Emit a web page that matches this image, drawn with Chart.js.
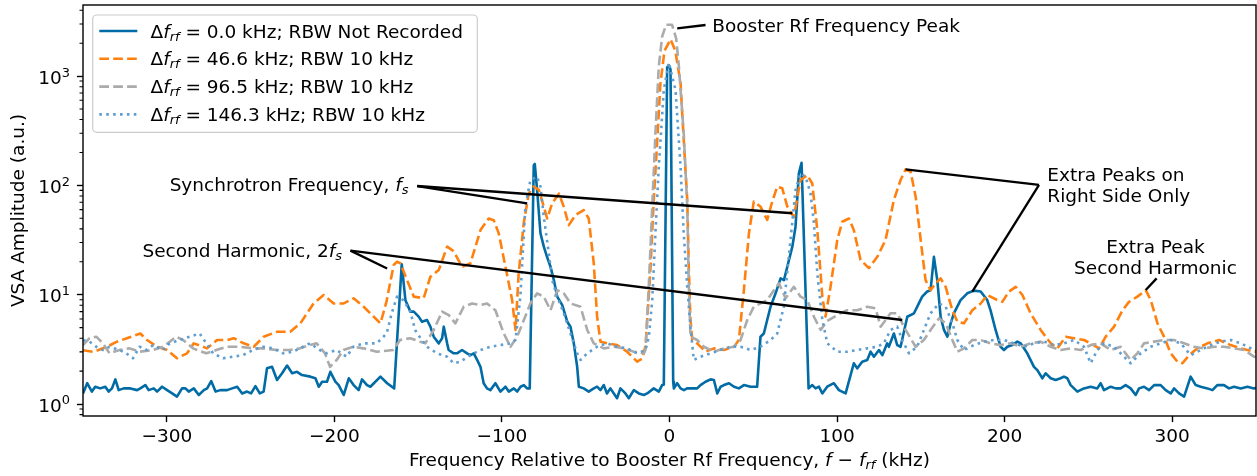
<!DOCTYPE html>
<html>
<head>
<meta charset="utf-8">
<script src="https://cdn.jsdelivr.net/npm/chart.js@4"></script>
<style>
  html, body { margin: 0; padding: 0; background: #fff; }
</style>
</head>
<body>
<canvas id="vsaChart" width="1257" height="476"></canvas>
<script>
// spectrum traces, [frequency offset (kHz), VSA amplitude (a.u.)]
const ampOffset0 = [
  [-350,1.25],[-347.5,1.55],[-344.7,1.30],[-342.7,1.44],[-339.7,1.39],[-336.7,1.44],[-334.7,1.30],[-332.7,1.39],[-330.7,1.68],[-328.7,1.34],
  [-325.7,1.39],[-321.7,1.39],[-317.7,1.34],[-315.8,1.39],[-312.8,1.49],[-310.8,1.34],[-307.8,1.39],[-305.8,1.30],[-302.8,1.44],[-299.8,1.34],
  [-296.8,1.25],[-293.9,1.17],[-290.9,1.39],[-288.9,1.39],[-286.9,1.30],[-283.9,1.39],[-280.9,1.21],[-277.9,1.34],[-275.9,1.39],[-273.5,1.62],
  [-270.9,1.30],[-268,1.34],[-264,1.34],[-261,1.39],[-258,1.44],[-255,1.25],[-252.1,1.30],[-249.7,1.25],[-247.1,1.46],[-244.5,1.25],
  [-242.2,1.30],[-240.2,2.12],[-237.2,2.19],[-234.2,1.66],[-231.2,1.91],[-228.2,2.25],[-225.2,1.91],[-222.3,1.97],[-219.3,1.84],[-214.3,1.78],
  [-211.3,1.72],[-209.3,1.44],[-207.3,1.6],[-204.4,1.6],[-202.4,1.97],[-199.4,1.6],[-197.4,1.49],[-194.4,1.21],[-191.4,1.72],[-188.5,1.49],
  [-185.5,1.34],[-183.5,1.68],[-180.5,1.49],[-178.5,1.44],[-172.5,1.78],[-168.5,1.55],[-164.3,1.39],[-159.8,19],[-157.6,8.9],[-154.6,7.0],
  [-152.6,7.0],[-149.7,6.3],[-147.7,5.66],[-144.7,5.87],[-142.7,5.1],[-140.7,4.13],[-137.7,3.59],[-135.7,4.0],[-134.7,5.1],[-132.7,3.59],
  [-131.8,3.12],[-128.8,2.91],[-126.8,2.91],[-123.8,3.12],[-120.8,2.91],[-118.8,2.8],[-116.8,2.91],[-114.8,2.53],[-112.8,2.19],[-110.9,1.55],
  [-108.9,1.39],[-106.9,1.34],[-103.9,1.55],[-100.9,1.30],[-97.9,1.44],[-95.9,1.30],[-92.9,1.39],[-90.9,1.30],[-88.9,1.44],[-86.9,1.49],
  [-85,1.39],[-83.4,1.39],[-81,153],[-80.4,157],[-79,90.6],[-77,36.5],[-75,27.5],[-73,22],[-71,18],[-69,13.6],
  [-67,9.6],[-64,8.04],[-61,5.66],[-59.1,5.1],[-57.1,3.59],[-55.1,2.19],[-54.1,1.44],[-51.2,1.39],[-48.2,1.30],[-45.2,1.39],
  [-43.2,1.44],[-41.2,1.34],[-39.2,1.49],[-37.3,1.25],[-35.3,1.39],[-31.3,1.13],[-29.3,1.39],[-26.3,1.25],[-24.3,1.13],[-21.3,1.34],
  [-18.3,1.25],[-15.3,1.21],[-13.3,1.25],[-9.4,1.39],[-6.4,1.30],[-4.4,1.49],[-3.4,1.5],[-1.4,1200],[-0.4,1260],[0.6,1150],
  [2.2,1.6],[2.6,1.39],[4.6,1.55],[6.6,1.39],[8.6,1.34],[10.5,1.39],[13.5,1.39],[16.5,1.39],[18.5,1.49],[21.5,1.6],
  [24.5,1.68],[26.5,1.66],[28.5,1.25],[30.5,1.44],[32.5,1.49],[35.5,1.55],[38.5,1.44],[41.4,1.39],[44.4,1.49],[48.4,1.44],
  [52.3,1.44],[54.3,4.13],[56.3,4.42],[58.3,5.87],[60.3,7.76],[63.3,10.3],[66.3,14.1],[68.3,13.6],[70.3,18],[73.3,27.5],
  [75.2,41.9],[77.2,129],[78.8,161],[83,1.39],[85.2,1.49],[87.2,1.39],[89.2,1.44],[91.2,1.25],[94.1,1.44],[98.1,1.55],
  [101.1,1.34],[105.1,1.25],[110,2.36],[112,2.12],[115,2.44],[118,2.53],[120,3.01],[122,2.71],[125,3.12],[127,2.8],
  [129.9,3.59],[130.9,3.34],[133.9,4.42],[135.9,3.46],[137.9,3.34],[141.9,6.29],[145.9,6.76],[148.8,8.32],[150.8,9.6],[153.8,10.7],
  [155.8,11.0],[157.8,22.2],[159.8,13.6],[161.8,6.29],[163.8,4.76],[165.8,4.13],[167.8,5.47],[169.7,6.76],[173.7,8.93],[177.7,10.3],
  [181.7,10.9],[185.7,10.7],[189.6,8.93],[191.6,7.2],[194.6,4.76],[197.6,3.34],[199.6,3.12],[201.6,3.34],[204.6,3.46],[207.6,3.72],
  [209.6,3.59],[213.5,2.91],[217.5,2.19],[219.5,2.04],[222.5,1.72],[224.5,1.91],[227.5,1.72],[230.4,1.66],[233.4,1.72],[235.4,1.78],
  [237.4,1.72],[239.4,1.49],[243.4,1.30],[247.3,1.39],[251.3,1.44],[255.3,1.39],[257.3,1.55],[259.3,1.34],[263.3,1.44],[266.3,1.39],
  [269.2,1.39],[272.2,1.49],[275.2,1.39],[278.2,1.21],[280.2,1.39],[283.2,1.44],[286.2,1.34],[289.2,1.49],[293.1,1.49],[296.1,1.34],
  [299.1,1.25],[301.1,1.39],[304.1,1.25],[307.1,1.17],[311,1.78],[314,1.49],[317,1.44],[321,1.39],[324,1.34],[326.9,1.49],
  [330.9,1.49],[333.9,1.39],[336.9,1.44],[340.9,1.39],[344.9,1.44],[348.8,1.39],[350,1.40]
];

const ampOffset46 = [
  [-350,3.1],[-343.7,3.0],[-335.7,3.34],[-329.7,3.72],[-323.8,4.0],[-315.8,4.42],[-311.8,3.85],[-305.8,3.34],[-299.8,3.12],[-293.9,2.62],
  [-287.9,2.91],[-283.9,3.59],[-276,3.23],[-270,3.85],[-264,3.85],[-260,4.0],[-254.1,3.59],[-248.1,3.34],[-242.2,4.13],[-234.2,4.58],
  [-226.3,4.58],[-220.3,5.47],[-212.4,8.32],[-206.4,9.93],[-200.4,8.32],[-194.4,8.32],[-188.5,9.27],[-182.5,7.76],[-172.5,5.47],[-169,8.5],
  [-164.6,18.7],[-162.6,20],[-160.6,19.4],[-156.6,13.6],[-152.6,9.6],[-146.7,9.3],[-142.7,14.6],[-137.7,16.8],[-132.7,27.5],[-128.8,25],
  [-123.8,18],[-118.8,19.4],[-112.8,39],[-107.9,49.8],[-104.9,48],[-101.9,36.4],[-97.9,18],[-93.9,8.93],[-91.9,4.76],[-90,15.7],
  [-87,45],[-84,84],[-81,97.6],[-78,91],[-75,64],[-73,49.8],[-70,68.6],[-66,84],[-63.1,64],[-60.1,43.3],
  [-56.1,53.6],[-51.2,59.5],[-48.2,49.8],[-45.2,19.4],[-43.2,6.3],[-41.2,3.72],[-37.3,3.59],[-31.3,3.46],[-25.3,3.01],[-19.3,2.44],
  [-16.3,2.6],[-14.3,3.4],[-12.3,10],[-11.3,18],[-9.4,73.6],[-7.3,260],[-5.4,859],[-3,1700],[0.6,2170],[3.5,1700],
  [6.6,859],[8.5,260],[10.6,73.6],[11.5,18],[12.5,6],[13.6,3.85],[16.5,3.59],[21.5,3.01],[26.5,3.23],[32.5,3.12],
  [38.5,3.34],[41.4,3.85],[44.4,11],[47.4,36.4],[50.3,71],[54.3,64],[58.3,48.3],[61.3,71],[64.3,97.6],[67.3,94],
  [70.3,64],[74.2,51.5],[78.2,112],[82.2,124],[85.2,104],[88.2,39],[91.2,9.6],[93.1,6.3],[96.1,11.8],[100.1,31.6],
  [103.1,46.5],[107.1,49.8],[110,39],[114,20.8],[119,17.5],[124,22.2],[128.9,31.6],[133.9,73.6],[137.9,112],[140.9,140],
  [143.9,133],[146.9,78.9],[149.9,31.6],[152.8,13.6],[155.8,11],[158.8,12.7],[161.8,14.1],[164.8,11.8],[168.8,7.2],[171.8,5.66],
  [175.7,5.47],[180.7,7.2],[185.7,8.32],[189.7,9.93],[195.6,8.93],[198.6,8.6],[202.6,10.7],[206.6,11.8],[210.6,9.93],[215.5,6.76],
  [221.5,4.76],[227.5,3.59],[231.5,3.23],[236.4,4.13],[241.4,4.0],[247.4,3.85],[251.3,3.59],[256.3,3.23],[260.3,4.13],[265.3,5.1],
  [270.3,7.2],[274.2,8.6],[279.2,9.6],[284.2,11],[287.2,8.93],[291.2,5.47],[295.1,4.13],[299.1,2.91],[303.1,2.44],[306.1,2.36],
  [310.1,2.8],[315.1,3.23],[321,3.59],[328,3.85],[334.9,3.46],[340.9,3.23],[348.8,3.01],[350,3.0]
];

const ampOffset96 = [
  [-350,3.46],[-346.1,4.0],[-342.1,4.13],[-338.1,3.59],[-334.2,2.91],[-328.2,3.12],[-322.2,3.23],[-316.2,3.01],[-308.2,3.12],[-302.3,3.34],
  [-294.3,4.13],[-290.3,3.85],[-284.4,3.23],[-276.4,2.91],[-270.4,3.12],[-264.4,3.34],[-256.5,3.34],[-248.5,3.23],[-242.5,3.23],[-234.5,3.12],
  [-226.6,3.12],[-220.6,3.23],[-214.6,3.46],[-210.6,3.59],[-205.6,2.91],[-202.6,2.19],[-198.6,2.53],[-194.6,3.12],[-188.7,3.34],[-182.7,3.23],
  [-174.7,3.01],[-164.8,3.12],[-160.8,3.85],[-154.8,4.0],[-148.8,3.72],[-145.7,3.59],[-140.7,4.76],[-135.7,7.0],[-131.7,6.5],[-127.8,5.47],
  [-122.8,7.76],[-117.8,8.32],[-112.8,8.04],[-108.9,8.32],[-103.9,7.2],[-98.9,4.42],[-94.9,3.34],[-90.9,4.13],[-86.9,5.87],[-83,8.32],
  [-79,10.3],[-75,9.6],[-71,7.2],[-67,11],[-63.1,10.3],[-59.1,8.32],[-53.1,7.76],[-49.1,4.76],[-45.2,3.59],[-39.2,3.23],
  [-33.2,3.34],[-27.3,3.23],[-21.3,3.01],[-15.3,2.91],[-14.3,3.12],[-12.3,12.7],[-10.3,64],[-8.4,300],[-6.4,1220],[-4.4,2300],
  [-2,2950],[1.5,2950],[4,2200],[5.6,1220],[8.5,300],[10.6,64],[11.5,12.7],[12.5,4.13],[16.5,3.85],[20.5,3.34],
  [26.5,3.01],[32.5,3.23],[38.5,3.34],[42.4,3.85],[46.4,5.87],[50.3,7.76],[54.3,8.32],[58.3,8.93],[62.3,11],[65.3,12.7],
  [69.3,9.27],[74.2,11.8],[78.2,9.6],[82.2,8.93],[86.2,6.29],[90.2,4.76],[94.1,5.75],[102,6.76],[106.1,7.2],[112,7.2],
  [118,7.76],[123,7.5],[126,5.1],[131.9,6.76],[135.9,6.76],[140.9,4.76],[146.9,3.34],[151.8,3.85],[155.8,4.76],[160.8,6.08],
  [164.8,5.47],[168.8,3.85],[171.8,3.01],[175.7,3.23],[180.7,3.85],[185.7,3.85],[191.6,3.59],[197.6,3.46],[203.6,3.59],[209.6,3.34],
  [215.5,3.59],[221.5,3.72],[227.5,3.34],[233.4,3.12],[239.4,3.23],[245.4,3.12],[251.3,3.46],[257.3,3.59],[263.3,3.12],[269.2,3.34],
  [275.2,2.53],[279.2,2.91],[283.2,3.59],[289.2,3.72],[295.1,3.85],[301.1,3.85],[307.1,3.59],[313,3.34],[319,3.23],[325,3.34],
  [330.9,3.34],[336.9,3.23],[342.9,3.12],[348.8,2.71],[350,2.7]
];

const ampOffset146 = [
  [-350,3.85],[-346.1,3.72],[-342.1,3.34],[-338.1,3.12],[-334.2,3.34],[-328.2,3.12],[-324.2,2.91],[-320.2,2.62],[-316.2,3.34],[-312.2,3.12],
  [-308.2,3.46],[-302.3,3.12],[-298.3,3.59],[-292.3,3.85],[-286.3,4.13],[-280.4,4.42],[-276.4,3.59],[-272.4,2.91],[-266.4,2.62],[-260.5,2.71],
  [-254.5,2.8],[-248.5,3.12],[-242.5,3.34],[-236.5,3.23],[-230.6,2.91],[-224.6,3.01],[-218.6,3.34],[-214.6,3.59],[-208.7,3.12],[-204.7,2.91],
  [-198.7,3.12],[-192.7,2.71],[-188.7,3.34],[-182.7,3.59],[-174.7,3.59],[-168.8,4.42],[-165.8,6.76],[-162.6,9.6],[-158.8,8.93],[-154.7,7.0],
  [-151.8,4.76],[-150.6,4.42],[-144.7,3.34],[-138.7,2.91],[-132.7,2.71],[-128.8,2.36],[-124.8,2.44],[-118.8,2.8],[-112.8,3.12],[-106.9,3.34],
  [-100.9,3.46],[-94.9,3.59],[-91.9,3.85],[-89,9.6],[-86,64],[-83,112],[-79,120],[-77,97.6],[-75,51.5],[-72,23.9],
  [-70,13.6],[-67,9.6],[-63.1,6.76],[-59.1,4.42],[-55.1,2.91],[-53.1,2.53],[-49.1,2.91],[-43.2,3.34],[-37.3,3.59],[-31.3,3.34],
  [-25.3,3.23],[-19.3,2.91],[-14.3,3.12],[-12.3,4.13],[-10.3,8.93],[-8.4,36.5],[-6.4,148],[-3.4,745],[-0.4,1330],[3.6,745],
  [6.6,148],[8.5,36.5],[10.6,11.8],[12.5,5.1],[14.5,2.53],[18.5,2.71],[24.5,2.91],[30.5,3.12],[36.4,3.34],[42.4,3.34],
  [48.4,3.12],[54.3,3.34],[60.3,3.85],[64.3,4.42],[68.2,7.76],[72.2,31.6],[75.2,90.6],[78.2,129],[81.2,120],[84.2,84],
  [86.2,45],[88.2,15.7],[91.2,5.87],[94.2,3.59],[100.1,3.01],[106.1,3.01],[112,3.12],[118,3.23],[124,3.34],[127.9,3.59],
  [131.9,4.76],[135.9,5.1],[138.9,3.85],[142.9,2.91],[147.8,3.34],[151.8,4.76],[155.8,6.76],[160.8,8.32],[164.8,7.76],[168.8,5.47],
  [171.8,3.85],[175.7,3.12],[181.7,3.46],[187.7,3.72],[193.6,3.85],[199.6,3.85],[205.6,3.59],[211.6,3.34],[217.5,3.59],[223.5,3.72],
  [229.5,3.46],[235.4,3.59],[241.4,3.85],[247.4,3.34],[251.3,2.36],[255.3,3.12],[259.3,3.59],[265.3,3.34],[271.2,2.71],[275.2,2.36],
  [281.2,2.91],[287.2,3.34],[293.1,3.59],[299.1,3.85],[305.1,3.59],[311,2.8],[317,3.12],[323,3.46],[328.9,3.72],[334.9,3.85],
  [340.9,3.59],[348.8,3.12],[350,3.1]
];

const rfOffsets = ['0.0', '46.6', '96.5', '146.3'];
const bandwidths = ['Not Recorded', '10 kHz', '10 kHz', '10 kHz'];
const xTicks = [-300, -200, -100, 0, 100, 200, 300];
const yDecades = [1, 10, 100, 1000];

const plotFont = '"DejaVu Sans", sans-serif';
const fontSize = 18.5;

// text pieces: '' upright, 'i' italic, 'sub' italic subscript, 'sup' superscript
function drawRich(ctx, parts, x, y, align) {
  const items = parts.map(([t, s]) => {
    const small = s === 'sub' || s === 'sup';
    const font = (s === 'i' || s === 'sub' ? 'italic ' : '') + (small ? fontSize * 0.7 : fontSize) + 'px ' + plotFont;
    ctx.font = font;
    const dy = s === 'sub' ? fontSize * 0.17 : s === 'sup' ? -fontSize * 0.38 : 0;
    return { t, font, dy, w: ctx.measureText(t).width };
  });
  const total = items.reduce((sum, it) => sum + it.w, 0);
  let cx = align === 'right' ? x - total : align === 'center' ? x - total / 2 : x;
  ctx.textAlign = 'left';
  ctx.textBaseline = 'alphabetic';
  ctx.fillStyle = '#000';
  items.forEach(it => {
    ctx.font = it.font;
    ctx.fillText(it.t, cx, y + it.dy);
    cx += it.w;
  });
}

// annotation text anchors and line ends, in data coordinates
const notes = [
  { text: [[['Booster Rf Frequency Peak', '']]], at: [25.5, 2548], align: 'left',
    from: [21.5, 2933], to: [[4.6, 2737]] },
  { text: [[['Synchrotron Frequency, ', ''], ['f', 'i'], ['s', 'sub']]], at: [-155.8, 89.4], align: 'right',
    from: [-150.6, 98.7], to: [[-85, 68.6], [73.3, 55.6]] },
  { text: [[['Second Harmonic, 2', ''], ['f', 'i'], ['s', 'sub']]], at: [-195.4, 22.0], align: 'right',
    from: [-190.4, 25.3], to: [[-168.5, 17.4], [138.9, 5.87]] },
  { text: [[['Extra Peaks on', '']], [['Right Side Only', '']]], at: [225.5, 109.7], align: 'left',
    from: [220.5, 100.9], to: [[140.9, 140.4], [180.7, 10.65]] },
  { text: [[['Extra Peak', '']], [['Second Harmonic', '']]], at: [290, 23.9], align: 'center',
    from: [290.7, 14.1], to: [[284.2, 11.04]] }
];

const decorations = {
  id: 'decorations',
  afterDraw(chart) {
    const { ctx, chartArea: a, scales: { x, y } } = chart;
    ctx.save();

    // axes frame
    ctx.strokeStyle = '#000';
    ctx.lineWidth = 1.4;
    ctx.setLineDash([]);
    ctx.strokeRect(a.left, a.top, a.right - a.left, a.bottom - a.top);

    // minor log ticks
    ctx.lineWidth = 1.05;
    ctx.beginPath();
    for (let e = -1; e <= 3; e++) {
      for (let k = 2; k <= 9; k++) {
        const v = k * Math.pow(10, e);
        if (v < y.min || v > y.max) continue;
        const py = y.getPixelForValue(v);
        ctx.moveTo(a.left - 3.5, py);
        ctx.lineTo(a.left, py);
      }
    }
    ctx.stroke();

    // y tick labels as 10^n
    yDecades.forEach(v => {
      const py = y.getPixelForValue(v);
      drawRich(ctx, [['10', ''], [String(Math.round(Math.log10(v))), 'sup']], 70, py + 7.5, 'right');
    });

    // annotations
    ctx.lineWidth = 2.3;
    notes.forEach(n => {
      const fx = x.getPixelForValue(n.from[0]), fy = y.getPixelForValue(n.from[1]);
      n.to.forEach(p => {
        ctx.beginPath();
        ctx.moveTo(fx, fy);
        ctx.lineTo(x.getPixelForValue(p[0]), y.getPixelForValue(p[1]));
        ctx.stroke();
      });
      const tx = x.getPixelForValue(n.at[0]), ty = y.getPixelForValue(n.at[1]);
      n.text.forEach((parts, i) => drawRich(ctx, parts, tx, ty + i * 20.7, n.align));
    });

    // legend
    ctx.beginPath();
    ctx.roundRect(92.7, 15, 384.6, 117.3, 4);
    ctx.fillStyle = 'rgba(255,255,255,0.8)';
    ctx.fill();
    ctx.strokeStyle = '#cccccc';
    ctx.lineWidth = 1.2;
    ctx.stroke();
    chart.data.datasets.forEach((ds, i) => {
      const rowY = 31 + i * 27.8;
      ctx.beginPath();
      ctx.setLineDash(ds.borderDash || []);
      ctx.strokeStyle = ds.borderColor;
      ctx.lineWidth = ds.borderWidth;
      ctx.moveTo(99.3, rowY);
      ctx.lineTo(137.3, rowY);
      ctx.stroke();
      ctx.setLineDash([]);
      drawRich(ctx, [['\u0394', ''], ['f', 'i'], ['rf', 'sub'],
        [' = ' + rfOffsets[i] + ' kHz; RBW ' + bandwidths[i], '']], 150.5, rowY + 6.5, 'left');
    });

    // x axis title
    drawRich(ctx, [['Frequency Relative to Booster Rf Frequency, ', ''], ['f', 'i'], [' \u2212 ', ''],
      ['f', 'i'], ['rf', 'sub'], [' (kHz)', '']], (a.left + a.right) / 2, 466, 'center');

    ctx.restore();
  }
};

const toPoints = arr => arr.map(([f, v]) => ({ x: f, y: v }));

new Chart(document.getElementById('vsaChart'), {
  type: 'line',
  data: {
    datasets: [
      { label: '\u0394f_rf = 0.0 kHz; RBW Not Recorded', data: toPoints(ampOffset0),
        borderColor: '#006BA4', borderWidth: 2.6, order: 4 },
      { label: '\u0394f_rf = 46.6 kHz; RBW 10 kHz', data: toPoints(ampOffset46),
        borderColor: '#FF800E', borderWidth: 2.6, borderDash: [9.7, 4.2], order: 3 },
      { label: '\u0394f_rf = 96.5 kHz; RBW 10 kHz', data: toPoints(ampOffset96),
        borderColor: '#ABABAB', borderWidth: 2.6, borderDash: [9.7, 4.2], order: 2 },
      { label: '\u0394f_rf = 146.3 kHz; RBW 10 kHz', data: toPoints(ampOffset146),
        borderColor: '#5F9ED1', borderWidth: 2.6, borderDash: [2.6, 4.3], order: 1 }
    ]
  },
  options: {
    responsive: false,
    animation: false,
    devicePixelRatio: 1,
    events: [],
    parsing: false,
    elements: {
      point: { radius: 0 },
      line: { tension: 0, fill: false, borderJoinStyle: 'round' }
    },
    layout: { padding: { top: 5, right: 1, bottom: 0, left: 0 } },
    plugins: {
      legend: { display: false },
      tooltip: { enabled: false }
    },
    scales: {
      x: {
        type: 'linear',
        min: -350,
        max: 350,
        afterBuildTicks: s => { s.ticks = xTicks.map(v => ({ value: v })); },
        afterFit: s => { s.height = 60; },
        border: { display: false },
        grid: { drawOnChartArea: false, drawTicks: true, tickLength: 6.1, tickWidth: 1.4, tickColor: '#000' },
        ticks: {
          autoSkip: false,
          maxRotation: 0,
          padding: 4,
          color: '#000',
          font: { family: plotFont, size: fontSize },
          callback: v => (v < 0 ? '\u2212' + Math.abs(v) : String(v))
        }
      },
      y: {
        type: 'logarithmic',
        min: 0.777,
        max: 4470,
        afterBuildTicks: s => { s.ticks = yDecades.map(v => ({ value: v })); },
        afterFit: s => { s.width = 83; },
        border: { display: false },
        grid: { drawOnChartArea: false, drawTicks: true, tickLength: 6.1, tickWidth: 1.4, tickColor: '#000' },
        ticks: { display: false },
        title: {
          display: true,
          text: 'VSA Amplitude (a.u.)',
          color: '#000',
          font: { family: plotFont, size: fontSize },
          padding: { top: 8, bottom: 0 }
        }
      }
    }
  },
  plugins: [decorations]
});
</script>
</body>
</html>
